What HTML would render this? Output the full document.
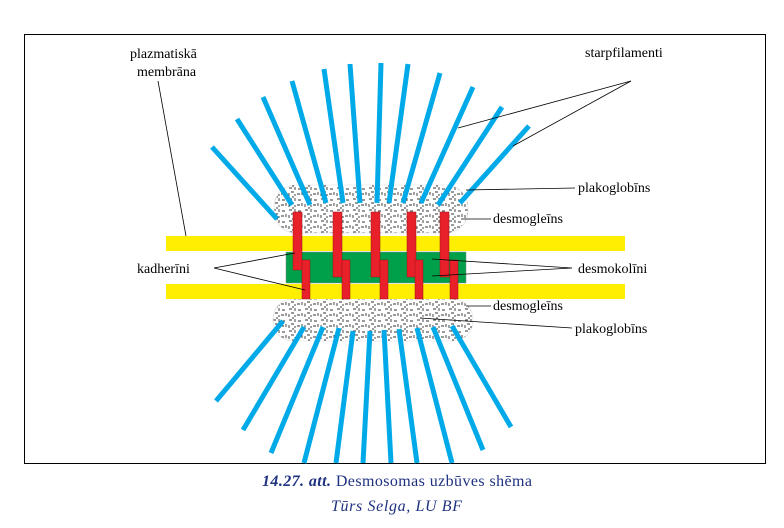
<!DOCTYPE html>
<html><head><meta charset="utf-8"><style>
html,body{margin:0;padding:0;background:#fff;width:784px;height:528px;overflow:hidden}
svg{display:block}
text{font-family:"Liberation Serif",serif;font-size:14px;fill:#000}
.cap{fill:#1f3280;font-size:16px}
</style></head><body>
<svg width="784" height="528" viewBox="0 0 784 528" xmlns="http://www.w3.org/2000/svg">
<defs>
<pattern id="tx" width="16" height="11" patternUnits="userSpaceOnUse">
<rect width="16" height="11" fill="#fff"/>
<path d="M1 1h3M7 0v3M10 2h3M1 6v3M3 5h3M7 7v2M9 7h3M14 5v3M4 10h2" stroke="#333" stroke-width="0.9" fill="none"/>
</pattern>
</defs>
<rect x="24.5" y="34.5" width="741" height="429" fill="#fff" stroke="#000" stroke-width="1"/>
<rect x="274" y="185" width="194" height="48" rx="22" fill="url(#tx)" stroke="#ddd" stroke-width="0.6"/>
<rect x="273" y="299" width="200" height="42" rx="20" fill="url(#tx)" stroke="#ddd" stroke-width="0.6"/>
<g stroke="#00aae8" stroke-width="5" stroke-linecap="butt">
<line x1="212" y1="147" x2="277" y2="219"/>
<line x1="237" y1="119" x2="292" y2="205"/>
<line x1="263" y1="97" x2="310" y2="205"/>
<line x1="292" y1="81" x2="326" y2="203"/>
<line x1="324" y1="69" x2="343" y2="203"/>
<line x1="350" y1="64" x2="360" y2="203"/>
<line x1="381" y1="63" x2="377" y2="203"/>
<line x1="408" y1="64" x2="389" y2="203"/>
<line x1="440" y1="73" x2="403" y2="203"/>
<line x1="473" y1="87" x2="421" y2="203"/>
<line x1="502" y1="107" x2="438" y2="205"/>
<line x1="529" y1="126" x2="460" y2="203"/>
<line x1="283" y1="321" x2="216" y2="401"/>
<line x1="304" y1="327" x2="243" y2="430"/>
<line x1="323" y1="327" x2="271" y2="453"/>
<line x1="339" y1="328" x2="304" y2="463"/>
<line x1="353" y1="331" x2="336" y2="463"/>
<line x1="370" y1="331" x2="363" y2="463"/>
<line x1="384" y1="330" x2="391" y2="463"/>
<line x1="399" y1="329" x2="417" y2="463"/>
<line x1="417" y1="328" x2="452" y2="463"/>
<line x1="433" y1="327" x2="483" y2="450"/>
<line x1="452" y1="326" x2="511" y2="427"/>
</g>
<rect x="166" y="236" width="459" height="15" fill="#ffee00"/>
<rect x="166" y="284" width="459" height="15" fill="#ffee00"/>
<rect x="286" y="252" width="180" height="31" fill="#00a04a" stroke="#888" stroke-width="0.5"/>
<g fill="#e8202a" stroke="#a01010" stroke-width="0.5">
<rect x="293" y="212" width="9" height="58"/>
<rect x="333" y="212" width="9" height="65"/>
<rect x="371" y="212" width="9" height="65"/>
<rect x="407" y="212" width="9" height="65"/>
<rect x="440" y="212" width="9" height="65"/>
<rect x="302" y="260" width="8" height="39"/>
<rect x="342" y="260" width="8" height="39"/>
<rect x="380" y="260" width="8" height="39"/>
<rect x="415" y="260" width="8" height="39"/>
<rect x="450" y="260" width="8" height="39"/>
</g>
<g stroke="#000" stroke-width="0.8" fill="none">
<line x1="158" y1="81" x2="186" y2="236"/>
<line x1="631" y1="81" x2="458" y2="128"/>
<line x1="631" y1="81" x2="513" y2="146"/>
<line x1="466" y1="190" x2="575" y2="188"/>
<line x1="461" y1="219" x2="491" y2="219"/>
<line x1="214" y1="268" x2="295" y2="253"/>
<line x1="214" y1="268" x2="305" y2="290"/>
<line x1="432" y1="259" x2="572" y2="268"/>
<line x1="432" y1="276" x2="572" y2="268"/>
<line x1="466" y1="306" x2="491" y2="306"/>
<line x1="420" y1="318" x2="572" y2="328"/>
</g>
<text x="130" y="58">plazmatiskā</text>
<text x="137" y="76">membrāna</text>
<text x="585" y="57">starpfilamenti</text>
<text x="578" y="192">plakoglobīns</text>
<text x="493" y="223">desmogleīns</text>
<text x="137" y="273">kadherīni</text>
<text x="578" y="273">desmokolīni</text>
<text x="493" y="310">desmogleīns</text>
<text x="575" y="333">plakoglobīns</text>
<text class="cap" x="262" y="486" textLength="270" lengthAdjust="spacing"><tspan font-weight="bold" font-style="italic">14.27. att.</tspan> Desmosomas uzbūves shēma</text>
<text class="cap" x="331" y="511" font-style="italic" textLength="131" lengthAdjust="spacing">Tūrs Selga, LU BF</text>
</svg>
</body></html>
